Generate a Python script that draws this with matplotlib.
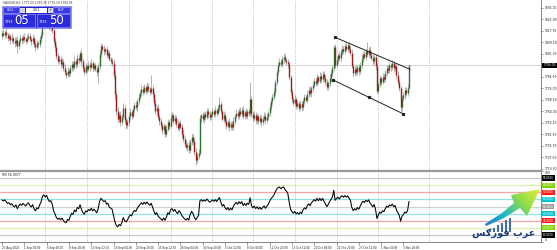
import matplotlib
matplotlib.use("Agg")
import matplotlib.pyplot as plt
import matplotlib.transforms as mtransforms
from matplotlib.patches import Rectangle, Polygon
from matplotlib.colors import LinearSegmentedColormap
import numpy as np

symbol = "XAUUSD,H4"

# closes before the first visible bar, only used to warm up the RSI
warmup_close = [1806.2, 1803.5, 1797.8, 1800.4, 1794.6, 1791.2, 1795.0, 1789.7, 1786.3,
                1790.8, 1792.5, 1788.9, 1791.4, 1794.8, 1793.0, 1797.6, 1809.4, 1815.2]
first_open = 1813.9

close = [
    1816.5, 1815.0, 1817.2, 1814.8, 1812.6, 1813.9, 1811.2, 1812.8, 1810.4, 1808.9,
    1811.5, 1806.8, 1810.2, 1812.6, 1811.0, 1813.4, 1812.1, 1810.7, 1812.9, 1814.2,
    1811.6, 1810.3, 1812.5, 1808.4, 1806.2, 1809.1, 1808.0, 1811.7, 1814.6, 1822.5,
    1824.8, 1823.0, 1825.6, 1822.4, 1820.1, 1821.3, 1818.2, 1810.5, 1806.0, 1799.8,
    1796.4, 1797.5, 1794.2, 1795.8, 1791.5, 1788.0, 1786.4, 1789.2, 1787.5, 1791.0,
    1793.8, 1792.2, 1796.5, 1794.0, 1798.7, 1797.1, 1801.8, 1796.0, 1791.4, 1788.6,
    1792.3, 1790.8, 1793.5, 1792.0, 1794.6, 1791.2, 1793.0, 1790.5, 1788.2, 1792.4,
    1801.5, 1806.8, 1805.0, 1803.2, 1804.5, 1800.6, 1801.8, 1797.5, 1796.2, 1794.8,
    1786.0, 1772.5, 1760.3, 1754.8, 1757.6, 1752.9, 1756.4, 1762.8, 1754.1, 1750.2,
    1752.6, 1756.8, 1759.5, 1757.2, 1762.0, 1764.8, 1763.1, 1767.4, 1770.6, 1773.5,
    1776.2, 1774.0, 1777.5, 1775.1, 1778.3, 1776.0, 1774.2, 1777.0, 1772.4, 1766.1,
    1760.5, 1762.8, 1756.3, 1753.0, 1750.4, 1746.8, 1749.5, 1744.2, 1747.9, 1752.6,
    1750.1, 1755.8, 1757.3, 1753.0, 1755.4, 1751.2, 1748.6, 1752.0, 1749.3, 1744.0,
    1740.6, 1737.2, 1734.8, 1736.5, 1732.6, 1738.4, 1742.1, 1739.0, 1731.5, 1725.8,
    1728.4, 1730.6, 1755.2, 1757.4, 1754.6, 1758.0, 1756.2, 1760.5, 1758.1, 1755.9,
    1757.8, 1760.2, 1758.4, 1761.3, 1759.0, 1762.6, 1765.8, 1760.4, 1755.1, 1757.6,
    1753.2, 1750.0, 1752.8, 1748.7, 1751.5, 1749.0, 1753.6, 1756.9, 1759.2, 1757.0,
    1760.8, 1758.5, 1761.4, 1756.8, 1759.6, 1757.1, 1760.2, 1758.8, 1769.0, 1758.5,
    1755.2, 1757.9, 1754.0, 1756.6, 1753.1, 1755.8, 1752.4, 1754.9, 1757.2, 1753.8,
    1756.5, 1759.0, 1763.4, 1767.8, 1770.5, 1774.2, 1781.0, 1788.6, 1793.4, 1795.8,
    1794.2, 1797.5, 1799.3, 1797.0, 1795.6, 1793.8, 1784.5, 1774.0, 1769.2, 1766.5,
    1768.9, 1764.3, 1766.0, 1762.8, 1765.4, 1763.0, 1767.6, 1770.2, 1768.4, 1772.8,
    1775.5, 1773.1, 1777.0, 1779.4, 1782.0, 1780.3, 1784.6, 1782.1, 1785.8, 1783.5,
    1786.9, 1784.0, 1781.2, 1777.8, 1780.5, 1784.2, 1787.6, 1791.0, 1806.2, 1793.5,
    1797.2, 1800.4, 1798.0, 1802.6, 1805.1, 1803.4, 1806.8, 1804.9, 1807.3, 1805.0,
    1802.2, 1792.8, 1787.5, 1790.4, 1788.1, 1791.6, 1789.0, 1793.3, 1797.8, 1801.2,
    1799.4, 1803.0, 1801.5, 1804.2, 1800.8, 1798.6, 1796.0, 1798.9, 1792.4, 1775.0,
    1779.6, 1783.8, 1781.5, 1785.0, 1783.2, 1787.6, 1791.4, 1789.6, 1793.0, 1791.8,
    1794.5, 1790.9, 1792.7, 1786.1, 1781.5, 1776.8, 1763.0, 1769.5, 1771.8, 1775.6,
    1773.4, 1777.2, 1793.05]

wick_up = [
    1.8, 2.4, 1.2, 2.9, 1.5, 2.2, 1.7, 3.1, 1.4, 2.6,
    1.9, 2.3, 1.6, 2.8, 1.3, 2.0, 2.5, 1.1, 2.7, 1.8,
    2.2, 1.5, 3.0, 1.7, 2.4, 1.9, 1.3, 2.6, 2.1, 4.2,
    2.8, 1.9, 2.5, 1.6, 2.3, 1.8, 2.9, 3.4, 2.1, 2.6,
    1.8, 3.2, 2.0, 2.7, 1.5, 2.4, 1.9, 2.8, 1.6, 2.2,
    2.5, 1.7, 3.0, 1.4, 2.3, 2.0, 1.7, 3.1, 2.2, 1.8,
    2.6, 1.5, 2.4, 1.9, 2.8, 1.6, 2.3, 2.0, 1.7, 2.5,
    2.9, 2.1, 1.8, 2.6, 1.5, 2.7, 1.9, 2.4, 1.6, 2.2,
    2.8, 3.5, 2.4, 3.0, 2.1, 2.6, 1.9, 3.3, 2.2, 1.8,
    2.5, 1.7, 2.9, 1.6, 2.3, 2.0, 2.7, 1.5, 2.4, 1.9,
    2.6, 1.8, 2.3, 1.5, 2.8, 2.0, 1.7, 9.0, 2.4, 2.1,
    2.7, 1.6, 2.5, 1.9, 2.2, 1.8, 2.6, 1.4, 2.3, 2.0,
    1.7, 2.9, 2.4, 1.6, 2.2, 1.9, 2.7, 1.5, 2.3, 2.0,
    2.6, 1.8, 2.4, 1.7, 2.9, 2.1, 1.6, 2.5, 1.9, 2.2,
    1.8, 2.6, 2.4, 1.9, 2.7, 1.5, 2.3, 2.0, 1.8, 2.5,
    1.7, 2.4, 1.9, 2.8, 1.6, 2.2, 4.5, 2.0, 1.7, 2.6,
    1.9, 2.3, 1.5, 2.7, 2.0, 1.8, 2.4, 1.6, 2.9, 2.1,
    1.7, 2.5, 1.9, 2.3, 1.6, 2.8, 2.0, 1.8, 12.0, 2.2,
    1.9, 2.6, 1.7, 2.4, 2.0, 1.5, 2.7, 1.8, 2.3, 1.9,
    2.5, 1.7, 2.8, 2.1, 1.9, 2.6, 2.3, 2.0, 1.8, 2.7,
    1.6, 2.4, 1.9, 2.8, 1.7, 2.3, 2.5, 1.8, 2.2, 1.6,
    2.7, 1.9, 2.4, 1.5, 2.6, 2.0, 1.8, 2.3, 1.7, 2.5,
    1.9, 2.8, 1.6, 2.4, 2.0, 1.7, 2.6, 1.9, 2.2, 1.5,
    2.5, 1.8, 2.3, 2.0, 1.7, 2.6, 1.9, 2.4, 1.5, 2.1,
    2.2, 1.7, 2.8, 1.9, 2.4, 1.6, 2.3, 2.0, 1.8, 2.6,
    1.9, 2.5, 1.7, 2.2, 2.8, 1.6, 2.4, 1.9, 2.7, 1.8,
    2.3, 2.0, 6.5, 1.7, 2.6, 1.9, 2.4, 1.6, 2.2, 2.5,
    1.8, 2.7, 1.9, 2.3, 1.6, 2.5, 2.0, 1.8, 2.6, 1.7,
    2.4, 1.9, 2.2, 1.6, 2.8, 2.0, 1.7, 2.5, 1.9, 2.3,
    1.8, 2.4, 0.3]

wick_dn = [
    2.1, 1.6, 2.7, 1.9, 2.4, 1.5, 2.8, 1.8, 2.2, 2.9,
    1.7, 4.8, 2.3, 1.6, 2.5, 1.9, 2.2, 2.7, 1.5, 2.0,
    1.8, 2.6, 1.9, 2.4, 3.0, 1.7, 2.3, 1.6, 2.0, 1.5,
    2.4, 1.8, 2.7, 2.0, 1.6, 2.5, 1.9, 2.2, 2.8, 2.0,
    2.6, 1.7, 2.9, 1.8, 2.3, 2.0, 2.6, 1.5, 2.4, 1.9,
    2.2, 2.8, 1.7, 2.5, 1.9, 2.3, 1.6, 2.7, 2.0, 2.4,
    1.8, 2.6, 2.1, 2.9, 1.7, 2.4, 2.0, 1.8, 2.5, 8.0,
    1.9, 2.3, 1.7, 2.6, 2.0, 1.8, 2.5, 1.6, 2.3, 2.1,
    2.7, 3.2, 2.5, 2.2, 1.9, 2.8, 2.1, 1.7, 2.4, 2.6,
    1.8, 2.5, 2.0, 2.7, 1.6, 2.3, 1.9, 2.4, 2.1, 1.8,
    2.4, 2.0, 1.7, 2.6, 1.9, 2.3, 2.1, 1.8, 2.5, 2.0,
    2.3, 2.8, 1.9, 2.4, 2.0, 2.6, 1.7, 2.5, 2.2, 1.8,
    2.4, 1.9, 2.6, 2.1, 1.8, 2.5, 2.0, 2.3, 1.7, 2.6,
    2.0, 2.4, 1.8, 2.7, 2.1, 1.9, 2.5, 2.2, 2.6, 3.8,
    2.3, 2.0, 1.9, 2.5, 1.8, 2.4, 2.1, 1.7, 2.6, 2.0,
    2.2, 1.8, 2.5, 2.0, 2.3, 1.7, 2.4, 2.1, 1.9, 2.6,
    2.0, 2.4, 1.8, 2.6, 2.1, 1.9, 2.3, 2.5, 1.7, 2.2,
    2.4, 1.9, 2.6, 2.0, 2.3, 1.8, 2.5, 2.1, 1.9, 2.4,
    2.2, 1.8, 2.5, 2.0, 2.7, 1.9, 2.3, 2.1, 1.8, 2.4,
    2.0, 2.5, 1.9, 2.3, 2.1, 1.8, 2.6, 2.0, 2.4, 1.7,
    2.3, 2.0, 2.5, 1.8, 2.2, 2.6, 2.1, 1.9, 2.4, 2.0,
    1.8, 2.5, 2.0, 2.3, 1.9, 2.6, 2.1, 2.4, 1.8, 2.2,
    2.5, 1.9, 2.3, 2.0, 2.6, 1.8, 2.2, 2.4, 1.9, 2.7,
    2.0, 2.3, 1.8, 2.6, 2.1, 1.9, 2.4, 2.0, 1.6, 2.3,
    1.9, 2.4, 2.0, 2.6, 1.8, 2.2, 2.5, 1.9, 2.3, 2.1,
    2.4, 1.8, 2.6, 2.0, 2.2, 1.9, 2.5, 2.1, 1.8, 2.4,
    2.0, 2.3, 1.9, 2.5, 2.1, 1.8, 2.4, 2.0, 2.6, 2.0,
    2.3, 1.9, 2.5, 2.0, 2.2, 1.8, 2.4, 2.1, 1.9, 2.6,
    2.0, 2.3, 1.8, 2.5, 2.1, 1.9, 3.0, 2.2, 2.0, 2.4,
    1.9, 2.1, 1.1]

time_labels = ["27 Aug 2021", "1 Sep 08:00", "6 Sep 00:00", "8 Sep 20:00", "13 Sep 12:00",
               "16 Sep 04:00", "20 Sep 20:00", "23 Sep 12:00", "28 Sep 04:00", "30 Sep 20:00",
               "5 Oct 12:00", "8 Oct 04:00", "12 Oct 20:00", "15 Oct 12:00", "20 Oct 04:00",
               "22 Oct 20:00", "27 Oct 12:00", "1 Nov 04:00", "3 Nov 20:00"]
label_step = 16
grid_bars = [31, 61, 91, 121, 151, 180, 210, 240, 270, 306]
price_ticks = [1834.10, 1825.90, 1817.70, 1809.50, 1801.30, 1793.10, 1784.90, 1776.70,
               1768.50, 1760.30, 1752.10, 1743.90, 1735.70, 1727.50, 1719.30]

# channel drawn on the chart: (bar, price)
chan_upper = [(239.0, 1813.1), (292.7, 1790.3)]
chan_lower = [(237.4, 1782.7), (287.7, 1758.5)]
chan_mid = (263.3, 1770.2)

bid, ask, lot = 1793.05, 1793.50, 0.01

rsi_levels = [90, 80, 70, 60, 50, 40, 30, 20, 10]
level_line = ['#c8c8c8', '#dcf2b0', '#f4a6a6', '#8fe3e3', '#d2d2d2',
              '#8fe3e3', '#f4a6a6', '#dcf2b0', '#c8c8c8']
level_box = ['#000000', '#7fd600', '#ff1a1a', '#00c6d2', '#9c9c9c',
             '#00c6d2', '#ff1a1a', '#7fd600', '#000000']

# --- ohlc ---
c = np.array(close)
o = np.array([first_open] + close[:-1])
hi = np.maximum(o, c) + np.array(wick_up)
lo = np.minimum(o, c) - np.array(wick_dn)
x = np.arange(len(c))

# --- RSI(14), Wilder ---
allc = np.array(warmup_close + close)
d = np.diff(allc)
g = np.clip(d, 0, None)
l = np.clip(-d, 0, None)
n = 14
ag, al = g[:n].mean(), l[:n].mean()
rsi_all = np.full(len(allc), np.nan)
rsi_all[n] = 100 - 100 / (1 + ag / al)
for i in range(n + 1, len(allc)):
    ag = (ag * (n - 1) + g[i - 1]) / n
    al = (al * (n - 1) + l[i - 1]) / n
    rsi_all[i] = 100 - 100 / (1 + ag / al)
rsi = rsi_all[len(warmup_close):]

W, H = 557, 250
fig = plt.figure(figsize=(W / 100, H / 100), dpi=100)
fig.patch.set_facecolor('white')

def box(x0, y0, x1, y1):
    return [x0 / W, 1 - y1 / H, (x1 - x0) / W, (y1 - y0) / H]

ax = fig.add_axes(box(0, 0, 541, 170))
rx = fig.add_axes(box(0, 171, 541, 242))
xl = (-1.43, 386.7)
tiny = 2.2

for a in (ax, rx):
    a.set_xlim(*xl)
    a.set_facecolor('white')
    for s in ('left', 'top', 'bottom'):
        a.spines[s].set_visible(False)
    a.spines['right'].set_color('#707070')
    a.spines['right'].set_linewidth(0.6)
    a.yaxis.tick_right()
    a.tick_params(axis='y', length=1.5, width=0.4, pad=1, labelsize=tiny,
                  colors='#505050', labelcolor='#202020')
    for b in grid_bars:
        a.axvline(b, color='#9a9a9a', lw=0.5, ls=(0, (1, 1.6)), zorder=0)

# price panel
ax.set_ylim(1718.3, 1839.8)
ax.set_xticks([])
ax.set_yticks(price_ticks)
ax.set_yticklabels([f"{p:.2f}" for p in price_ticks])
ax.axhline(bid, color='#cccccc', lw=0.6, zorder=1)
ax.vlines(x, lo, hi, colors='#939393', lw=0.5, zorder=2)
up = c >= o
ax.vlines(x[up], o[up], c[up], colors='#2c6e2c', lw=1.0, zorder=3)
ax.vlines(x[~up], o[~up], c[~up], colors='#9e1b1b', lw=1.0, zorder=3)
for seg in (chan_upper, chan_lower):
    ax.plot([p[0] for p in seg], [p[1] for p in seg], color='#202020', lw=0.7, zorder=4)
mk = [chan_upper[0], chan_lower[0], chan_mid, chan_lower[1]]
ax.plot([p[0] for p in mk], [p[1] for p in mk], ls='none', marker='s', ms=1.3,
        color='#202020', zorder=5)
blend = mtransforms.blended_transform_factory(ax.transAxes, ax.transData)
ax.text(1.004, bid, f"{bid:.2f}", transform=blend, fontsize=tiny, color='white',
        va='center', ha='left', zorder=10, clip_on=False,
        bbox=dict(boxstyle='square,pad=0.25', fc='black', ec='none'))

# RSI panel
rx.set_ylim(0, 100)
rx.spines['top'].set_visible(True)
rx.spines['top'].set_color('#9a9a9a')
rx.spines['top'].set_linewidth(1.6)
rx.spines['bottom'].set_visible(True)
rx.spines['bottom'].set_color('#707070')
rx.spines['bottom'].set_linewidth(0.6)
rx.set_yticks([0, 100])
rx.set_yticklabels(['0', '100'])
ylabs = rx.get_yticklabels()
ylabs[0].set_va('bottom')
ylabs[1].set_va('top')
for lv, lc in zip(rsi_levels, level_line):
    rx.axhline(lv, color=lc, lw=0.9, zorder=1)
rx.plot(x, rsi, color='black', lw=0.75, zorder=3)
rblend = mtransforms.blended_transform_factory(rx.transAxes, rx.transData)
for lv, bc in zip(rsi_levels, level_box):
    rx.text(1.004, lv, f"{lv:.4f}", transform=rblend, fontsize=tiny - 0.2, color='white',
            va='center', ha='left', clip_on=False,
            bbox=dict(boxstyle='square,pad=0.25', fc=bc, ec='none'))
rx.text(0.004, 0.975, f"RSI {rsi[-1]:.4f}", transform=rx.transAxes, fontsize=tiny,
        va='top', ha='left', color='#202020')
ticks = [k * label_step for k in range(len(time_labels))]
rx.set_xticks(ticks)
rx.set_xticklabels(time_labels, ha='left')
rx.tick_params(axis='x', length=1.8, width=0.4, pad=0.8, labelsize=2.0,
               colors='#505050', labelcolor='#202020')

# overlay: header, trade panel, logo
ov = fig.add_axes([0, 0, 1, 1], zorder=5)
ov.set_xlim(0, W)
ov.set_ylim(H, 0)
ov.axis('off')
ov.text(3, 2.6, f"{symbol}  {o[-1]:.2f} {hi[-1]:.2f} {lo[-1]:.2f} {c[-1]:.2f}",
        fontsize=2.1, va='center', ha='left', color='#303030')
ov.add_patch(Rectangle((2, 6), 69, 22, fc='#2424c8', ec='#8f8fff', lw=0.5))
ov.add_patch(Rectangle((3, 7), 16, 6, fc='#3a3ae6', ec='#b0b0ff', lw=0.4))
ov.text(11, 10, "SELL", fontsize=2.4, color='white', ha='center', va='center')
ov.add_patch(Rectangle((53, 7), 17, 6, fc='#3a3ae6', ec='#b0b0ff', lw=0.4))
ov.text(61.5, 10, "BUY", fontsize=2.4, color='white', ha='center', va='center')
ov.add_patch(Rectangle((20, 7.5), 5, 5, fc='#d8d8e8', ec='none'))
ov.text(22.5, 10, "-", fontsize=2.6, color='#303030', ha='center', va='center')
ov.add_patch(Rectangle((26, 7.5), 21, 5, fc='white', ec='none'))
ov.text(36.5, 10, f"{lot:.2f}", fontsize=2.3, color='#202020', ha='center', va='center')
ov.add_patch(Rectangle((47.5, 7.5), 5, 5, fc='#d8d8e8', ec='none'))
ov.text(50, 10, "+", fontsize=2.6, color='#303030', ha='center', va='center')
ov.add_patch(Rectangle((3, 14), 32, 13, fc='#2b2bdc', ec='#b0b0ff', lw=0.4))
ov.add_patch(Rectangle((37, 14), 33, 13, fc='#2b2bdc', ec='#b0b0ff', lw=0.4))
for x0, price in ((4.5, bid), (39, ask)):
    s = f"{price:.2f}"
    ov.text(x0, 22, s[:4], fontsize=2.4, color='white', ha='left', va='center')
    ov.text(x0 + 10, 20.5, s[5:], fontsize=8.5, color='white', ha='left', va='center')

# logo
bars_x = [489, 493, 497, 501, 505, 509]
bars_top = [229.5, 227.5, 225.0, 222.5, 220.0, 217.5]
for bx, bt in zip(bars_x, bars_top):
    ov.add_patch(Rectangle((bx, bt), 2.4, 232 - bt, fc='#2a5db5', ec='none', alpha=0.9))
arrow = Polygon([(485, 224), (502, 213), (514, 203), (511, 195), (540, 189),
                 (527, 216), (520, 208), (503, 218.5), (486, 226)], closed=True,
                fc='none', ec='none')
ov.add_patch(arrow)
cmap = LinearSegmentedColormap.from_list('lg', ['#1c6fd0', '#19b8c8', '#8fdc4a', '#e6ef3a'])
gx, gy = np.meshgrid(np.linspace(0, 1, 80), np.linspace(1, 0, 60))
img = ov.imshow(0.6 * gx + 0.4 * gy, cmap=cmap, extent=(484, 541, 228, 188),
                origin='upper', aspect='auto', zorder=6)
img.set_clip_path(arrow)
ov.text(504, 232.5, "\ufeb2\ufedb\ufead\ufeee\ufed3 \ufe8f\ufeae\ufecb", fontsize=7,
        fontweight='bold', color='#1b3d7c', ha='center', va='center', zorder=7,
        family=['DejaVu Sans'])
ov.set_xlim(0, W)
ov.set_ylim(H, 0)

fig.savefig("out.png", dpi=100, facecolor='white')
